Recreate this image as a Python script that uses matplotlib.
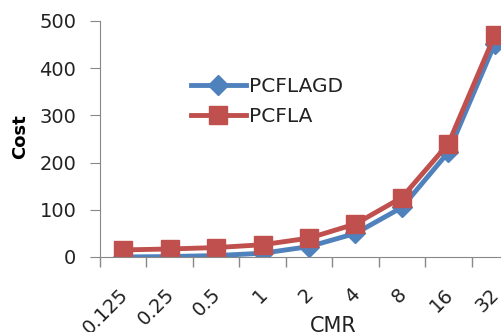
import numpy as np
import matplotlib.pyplot as plt
from matplotlib.transforms import ScaledTranslation

# data
cmr_labels = ['0.125', '0.25', '0.5', '1', '2', '4', '8', '16', '32']
pcflagd = [0, 1, 3, 8, 22, 50, 105, 222, 452]
pcfla = [15, 17, 20, 26, 40, 70, 126, 240, 470]

blue = '#4F81BD'
red = '#C0504D'
plt.rcParams['font.family'] = ['DejaVu Sans']

fig = plt.figure(figsize=(5.01, 3.32), dpi=100)
ax = fig.add_axes([100 / 501, 75 / 332, 418 / 501, 236 / 332])

x = np.arange(len(cmr_labels))
ax.plot(x, pcflagd, color=blue, lw=3.5, marker='D', ms=10, label='PCFLAGD')
ax.plot(x, pcfla, color=red, lw=3.5, marker='s', ms=12.5, label='PCFLA')

ax.set_xlim(-0.5, len(cmr_labels) - 0.5)
ax.set_ylim(0, 500)
ax.set_yticks(np.arange(0, 501, 100))
ax.set_xticks(x)
ax.set_xticklabels(cmr_labels, rotation=45, ha='right', rotation_mode='anchor')
ax.set_xticks(np.arange(-0.5, len(cmr_labels), 1), minor=True)
ax.tick_params(axis='x', which='major', length=0, labelsize=14, pad=20, labelcolor='#222222')
ax.tick_params(axis='x', which='minor', length=7, color='#888888', width=1)
ax.tick_params(axis='y', length=7, color='#888888', labelsize=14, labelcolor='#222222', pad=10)

# nudge the rotated labels a little to the left
shift = ScaledTranslation(-5 / 100, 0, fig.dpi_scale_trans)
for lbl in ax.get_xticklabels():
    lbl.set_transform(lbl.get_transform() + shift)

for s in ['top', 'right']:
    ax.spines[s].set_visible(False)
for s in ['left', 'bottom']:
    ax.spines[s].set_color('#888888')

ax.set_ylabel('Cost', fontsize=13, fontweight='bold')
ax.yaxis.set_label_coords(-0.17, 0.51)
ax.set_xlabel('CMR', fontsize=15, color='#222222')
ax.xaxis.set_label_coords(0.557, -0.25)

ax.legend(loc='upper left', bbox_to_anchor=(0.193, 0.805), frameon=False,
          fontsize=14.5, handlelength=2.75, handletextpad=0.15, borderpad=0,
          labelspacing=0.55, labelcolor='#222222')

fig.savefig('out.png', dpi=100)
